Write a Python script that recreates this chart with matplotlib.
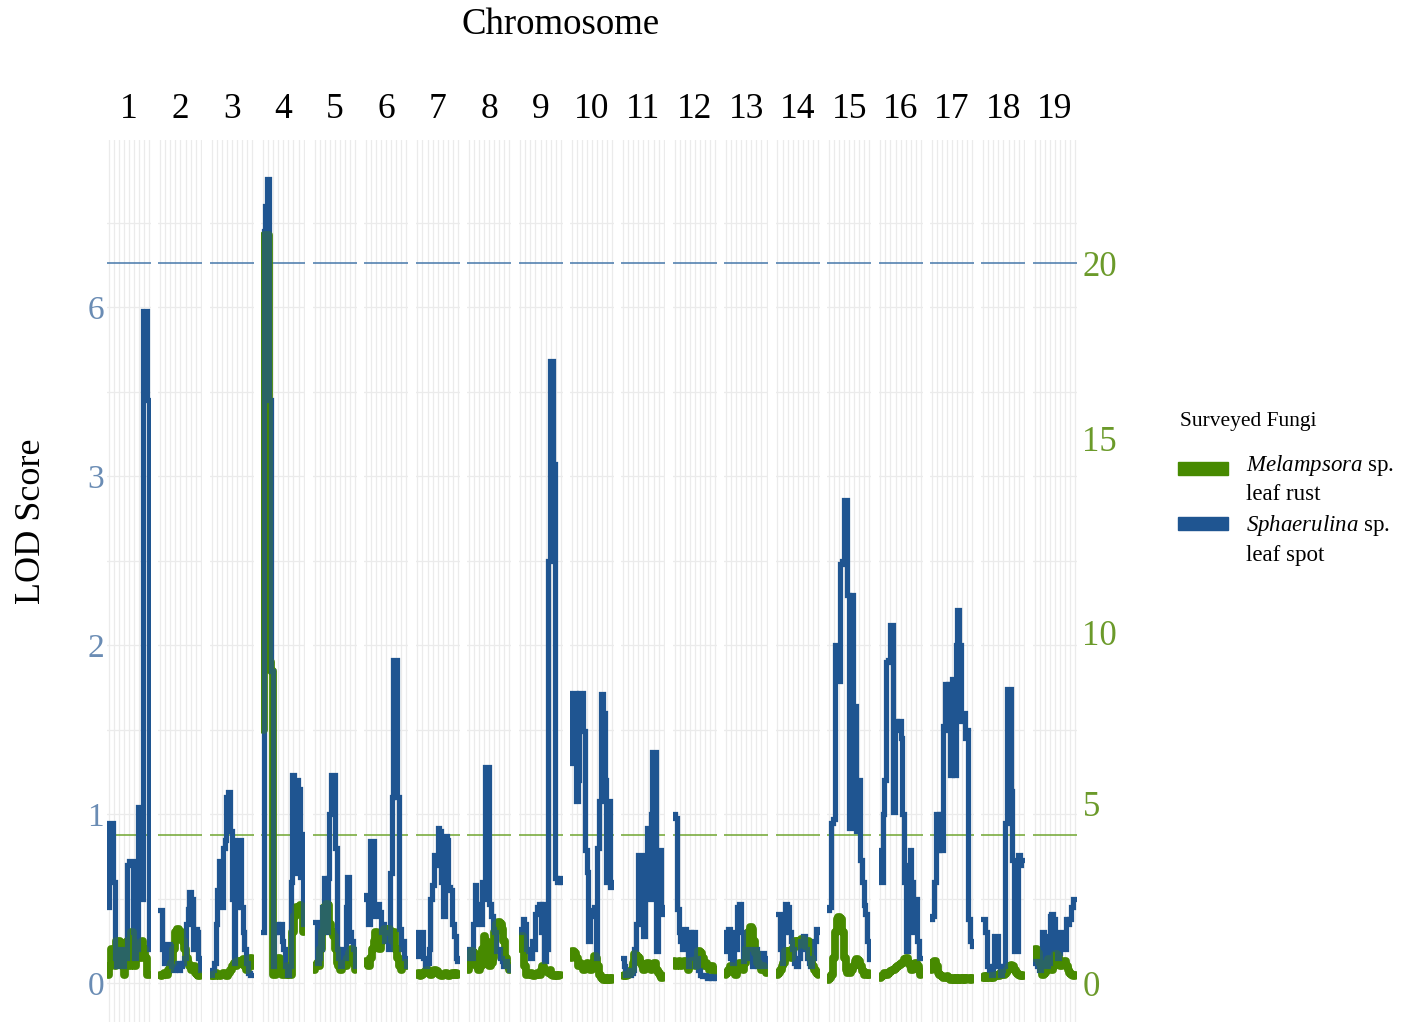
import numpy as np
import matplotlib
matplotlib.use('Agg')
import matplotlib.pyplot as plt
from matplotlib.patches import Rectangle

plt.rcParams['font.family'] = ['Liberation Serif', 'DejaVu Serif']
plt.rcParams['mathtext.fontset'] = 'custom'
plt.rcParams['mathtext.rm'] = 'Liberation Serif'
plt.rcParams['mathtext.it'] = 'Liberation Serif:italic'

# ---------------- data ----------------
chromosomes = [str(i) for i in range(1, 20)]

# positions on the (transformed) LOD axis and their labels
left_tick_pos = [0, 1, 2, 3, 4]
left_tick_labels = ['0', '1', '2', '3', '6']
right_tick_pos = [0, 1.065, 2.077, 3.225, 4.26]
right_tick_labels = ['0', '5', '10', '15', '20']
spot_threshold = 4.26
rust_threshold = 0.876

# Melampsora sp. leaf rust, scaled LOD along each chromosome
rust_lod = [
    [0.05,0.1,0.2,0.15,0.1,0.25,0.25,0.2,0.1,0.05,0.15,0.25,0.1,0.3,0.25,0.1,0.2,0.2,0.15,0.25,0.2,0.15,0.05,0.05],
    [0.05,0.04,0.05,0.06,0.05,0.08,0.1,0.12,0.2,0.3,0.32,0.31,0.3,0.25,0.2,0.15,0.12,0.1,0.08,0.1,0.06,0.05,0.04,0.05],
    [0.04,0.05,0.04,0.06,0.05,0.04,0.05,0.06,0.05,0.04,0.06,0.08,0.1,0.12,0.1,0.13,0.12,0.12,0.14,0.1,0.08,0.12,0.15,0.1],
    [1.5,4.43,4.43,4.43,1.9,1.85,0.05,0.05,0.1,0.15,0.1,0.05,0.05,0.05,0.1,0.05,0.05,0.3,0.4,0.45,0.45,0.46,0.45,0.3],
    [0.08,0.1,0.12,0.1,0.2,0.3,0.45,0.47,0.46,0.35,0.3,0.28,0.2,0.12,0.1,0.08,0.1,0.12,0.1,0.15,0.18,0.2,0.12,0.08],
    [0.12,0.13,0.1,0.15,0.2,0.25,0.3,0.28,0.2,0.25,0.3,0.32,0.3,0.32,0.3,0.25,0.3,0.2,0.15,0.1,0.08,0.1,0.12,0.1],
    [0.05,0.06,0.04,0.05,0.06,0.07,0.08,0.06,0.05,0.06,0.08,0.07,0.06,0.05,0.04,0.05,0.06,0.05,0.04,0.05,0.06,0.05,0.06,0.05],
    [0.08,0.12,0.19,0.18,0.15,0.1,0.08,0.1,0.2,0.28,0.25,0.2,0.1,0.12,0.15,0.3,0.35,0.36,0.35,0.32,0.25,0.15,0.1,0.08],
    [0.2,0.28,0.25,0.1,0.05,0.05,0.06,0.05,0.04,0.05,0.06,0.05,0.08,0.1,0.08,0.07,0.06,0.08,0.05,0.04,0.05,0.04,0.05,0.05],
    [0.15,0.19,0.18,0.15,0.1,0.12,0.1,0.08,0.1,0.12,0.1,0.08,0.12,0.16,0.15,0.1,0.05,0.03,0.02,0.03,0.02,0.03,0.02,0.03],
    [0.04,0.05,0.04,0.05,0.06,0.08,0.12,0.17,0.16,0.15,0.12,0.1,0.08,0.1,0.12,0.1,0.08,0.1,0.12,0.08,0.06,0.04,0.03,0.04],
    [0.13,0.1,0.12,0.13,0.1,0.12,0.13,0.1,0.08,0.12,0.13,0.12,0.1,0.15,0.19,0.18,0.15,0.1,0.12,0.1,0.08,0.1,0.08,0.07],
    [0.05,0.06,0.08,0.1,0.08,0.06,0.05,0.08,0.12,0.1,0.08,0.12,0.2,0.3,0.33,0.32,0.25,0.18,0.12,0.1,0.08,0.1,0.08,0.06],
    [0.05,0.06,0.08,0.1,0.12,0.19,0.18,0.19,0.15,0.2,0.25,0.22,0.25,0.24,0.26,0.25,0.22,0.25,0.2,0.15,0.1,0.08,0.06,0.05],
    [0.02,0.03,0.05,0.15,0.3,0.38,0.39,0.38,0.3,0.15,0.08,0.06,0.06,0.08,0.1,0.13,0.14,0.13,0.1,0.07,0.05,0.05,0.06,0.05],
    [0.03,0.04,0.05,0.06,0.05,0.06,0.07,0.08,0.08,0.09,0.1,0.11,0.12,0.12,0.14,0.15,0.12,0.1,0.08,0.1,0.12,0.1,0.07,0.05],
    [0.08,0.12,0.13,0.1,0.06,0.05,0.04,0.03,0.03,0.04,0.03,0.02,0.03,0.02,0.03,0.02,0.03,0.02,0.03,0.02,0.03,0.03,0.02,0.03],
    [0.03,0.04,0.03,0.04,0.03,0.04,0.03,0.04,0.05,0.04,0.06,0.05,0.05,0.06,0.08,0.1,0.11,0.1,0.08,0.06,0.05,0.04,0.05,0.04],
    [0.15,0.2,0.18,0.12,0.08,0.05,0.06,0.1,0.14,0.12,0.08,0.1,0.17,0.16,0.12,0.1,0.12,0.13,0.1,0.08,0.06,0.05,0.04,0.05],
]

# Sphaerulina sp. leaf spot, scaled LOD along each chromosome
spot_lod = [
    [0.45,0.95,0.95,0.6,0.15,0.1,0.2,0.15,0.1,0.2,0.15,0.7,0.72,0.72,0.3,0.15,0.2,1.04,1.04,0.5,3.98,3.98,3.45,0.2],
    [0.43,0.43,0.2,0.12,0.23,0.23,0.22,0.1,0.08,0.1,0.12,0.08,0.1,0.12,0.15,0.35,0.44,0.54,0.5,0.2,0.32,0.3,0.15,0.08],
    [0.05,0.08,0.12,0.35,0.55,0.72,0.45,0.8,0.85,1.1,1.13,0.9,0.5,0.12,0.45,0.85,0.85,0.45,0.3,0.2,0.12,0.06,0.05,0.05],
    [0.3,4.45,4.6,4.76,3.45,1.85,0.1,0.3,0.35,0.3,0.35,0.25,0.2,0.1,0.05,0.1,0.6,1.23,0.65,1.2,1.15,0.63,0.88,0.35],
    [0.36,0.36,0.12,0.15,0.2,0.45,0.62,0.3,0.62,1.0,1.23,1.23,0.8,0.2,0.15,0.1,0.2,0.15,0.45,0.63,0.3,0.25,0.2,0.1],
    [0.52,0.5,0.35,0.84,0.84,0.44,0.4,0.47,0.42,0.3,0.35,0.25,0.3,0.2,0.65,1.1,1.91,1.91,1.1,0.32,0.2,0.25,0.15,0.1],
    [0.16,0.3,0.3,0.3,0.15,0.1,0.12,0.2,0.5,0.58,0.76,0.7,0.92,0.9,0.6,0.4,0.87,0.85,0.57,0.55,0.35,0.28,0.15,0.13],
    [0.15,0.2,0.15,0.35,0.58,0.45,0.47,0.35,0.6,0.5,1.28,1.28,0.47,0.4,0.32,0.3,0.19,0.2,0.15,0.13,0.1,0.13,0.1,0.08],
    [0.32,0.3,0.38,0.35,0.2,0.19,0.15,0.25,0.2,0.41,0.45,0.47,0.3,0.47,0.13,0.2,2.5,3.68,3.68,3.07,0.62,0.6,0.62,0.6],
    [1.3,1.72,1.72,1.08,1.2,1.72,1.72,1.49,0.79,0.66,0.25,0.43,0.4,0.45,0.15,0.8,1.08,1.71,1.6,1.2,0.6,1.08,0.57,0.6],
    [0.15,0.1,0.05,0.08,0.05,0.06,0.08,0.2,0.35,0.76,0.76,0.5,0.28,0.7,0.92,0.5,1.0,1.37,1.37,0.19,0.5,0.79,0.45,0.41],
    [1.0,0.98,0.44,0.3,0.25,0.2,0.32,0.25,0.1,0.3,0.15,0.3,0.1,0.15,0.08,0.05,0.04,0.05,0.04,0.03,0.04,0.03,0.04,0.03],
    [0.19,0.3,0.32,0.15,0.12,0.3,0.2,0.45,0.47,0.3,0.13,0.15,0.19,0.2,0.15,0.1,0.19,0.2,0.1,0.15,0.1,0.18,0.15,0.1],
    [0.41,0.41,0.2,0.12,0.3,0.47,0.45,0.3,0.25,0.2,0.12,0.1,0.15,0.25,0.25,0.28,0.2,0.15,0.12,0.1,0.15,0.25,0.32,0.3],
    [0.43,0.45,0.95,0.97,2.0,2.0,1.79,2.48,2.5,2.86,2.86,2.3,0.92,2.3,1.64,1.64,0.9,1.2,0.73,0.6,0.46,0.41,0.25,0.14],
    [0.79,0.6,1.0,1.2,1.9,1.91,2.12,2.12,1.01,1.55,1.5,1.55,1.45,1.0,0.6,0.19,0.7,0.79,0.6,0.3,0.5,0.25,0.15,0.15],
    [0.38,0.4,0.6,1.0,0.79,1.0,0.79,1.52,1.77,1.5,1.77,1.23,1.8,1.23,2.0,2.21,2.0,1.55,1.6,1.45,1.5,0.38,0.25,0.22],
    [0.38,0.38,0.3,0.1,0.08,0.05,0.1,0.28,0.28,0.1,0.05,0.08,0.1,0.95,1.74,1.74,1.14,0.73,0.19,0.19,0.76,0.7,0.73,0.73],
    [0.12,0.13,0.1,0.08,0.12,0.3,0.28,0.1,0.12,0.4,0.41,0.38,0.2,0.15,0.18,0.3,0.28,0.2,0.38,0.35,0.38,0.45,0.5,0.5],
]

# ---------------- style ----------------
BLUE = '#1f5591'
GREEN = '#478a00'
GRID = '#ebebeb'
LEFT_COL = '#6a8cb4'
RIGHT_COL = '#6b9a2a'

W, H = 1401, 1023
fig = plt.figure(figsize=(W / 100, H / 100), dpi=100)

px_left = 107.0
pitch = 51.44
pw = 44.0
top_px = 140.0
bot_px = 1022.0
ylim = (-0.23, 4.99)
grid_y = np.arange(0, 4.6, 0.5)
grid_x = np.linspace(0.04, 0.96, 9)

axes = []
for k, chrom in enumerate(chromosomes):
    x0 = px_left + k * pitch
    ax = fig.add_axes([x0 / W, 1 - bot_px / H, pw / W, (bot_px - top_px) / H])
    ax.set_xlim(0, 1)
    ax.set_ylim(*ylim)
    for s in ax.spines.values():
        s.set_visible(False)
    ax.set_xticks([])
    ax.set_yticks([])
    for gy in grid_y:
        ax.axhline(gy, color=GRID, lw=0.9, zorder=0)
    for gx in grid_x:
        ax.axvline(gx, color=GRID, lw=0.9, zorder=0)
    ax.axhline(spot_threshold, color='#4678aa', lw=1.1, zorder=1)
    ax.axhline(rust_threshold, color='#70a630', lw=1.1, zorder=1)

    xs = np.linspace(0.03, 0.97, len(spot_lod[k]))
    ax.plot(xs, spot_lod[k], color=BLUE, lw=3.7, drawstyle='steps-mid',
            solid_joinstyle='miter', zorder=2)
    ax.plot(xs, rust_lod[k], color=GREEN, lw=5.6, drawstyle='steps-mid',
            solid_joinstyle='round', solid_capstyle='round', zorder=3)
    ax.plot(xs, spot_lod[k], color=BLUE, lw=3.7, alpha=0.7, drawstyle='steps-mid',
            solid_joinstyle='miter', zorder=4)

    fig.text((x0 + pw / 2) / W, 1 - 110 / H, chrom, ha='center', va='center',
             fontsize=25.5)
    axes.append(ax)

# left axis labels
a0 = axes[0]
a0.set_yticks(left_tick_pos)
a0.set_yticklabels(left_tick_labels)
a0.tick_params(axis='y', length=0, pad=2, labelsize=24, labelcolor=LEFT_COL)

# right axis labels
a1 = axes[-1]
a1.set_yticks(right_tick_pos)
a1.set_yticklabels(right_tick_labels)
a1.tick_params(axis='y', length=0, pad=4, labelsize=25, labelcolor=RIGHT_COL,
               left=False, labelleft=False, right=False, labelright=True)

# titles
fig.text(561 / W, 1 - 25 / H, 'Chromosome', ha='center', va='center', fontsize=26.5)
fig.text(32 / W, 1 - 521 / H, 'LOD Score', ha='center', va='center',
         rotation=90, fontsize=26)

# legend
fig.text(1180 / W, 1 - 421 / H, 'Surveyed Fungi', ha='left', va='center', fontsize=15.5)
fig.patches.append(Rectangle((1178 / W, 1 - 475 / H), 50 / W, 13 / H,
                             transform=fig.transFigure, color=GREEN))
fig.patches.append(Rectangle((1178 / W, 1 - 530 / H), 50 / W, 13 / H,
                             transform=fig.transFigure, color=BLUE))
fig.text(1246 / W, 1 - 466 / H, r'$\it{Melampsora}$ sp.', ha='left', va='center', fontsize=16.5)
fig.text(1246 / W, 1 - 494 / H, 'leaf rust', ha='left', va='center', fontsize=16.5)
fig.text(1246 / W, 1 - 525 / H, r'$\it{Sphaerulina}$ sp.', ha='left', va='center', fontsize=16.5)
fig.text(1246 / W, 1 - 555 / H, 'leaf spot', ha='left', va='center', fontsize=16.5)

fig.savefig('out.png', dpi=100)
